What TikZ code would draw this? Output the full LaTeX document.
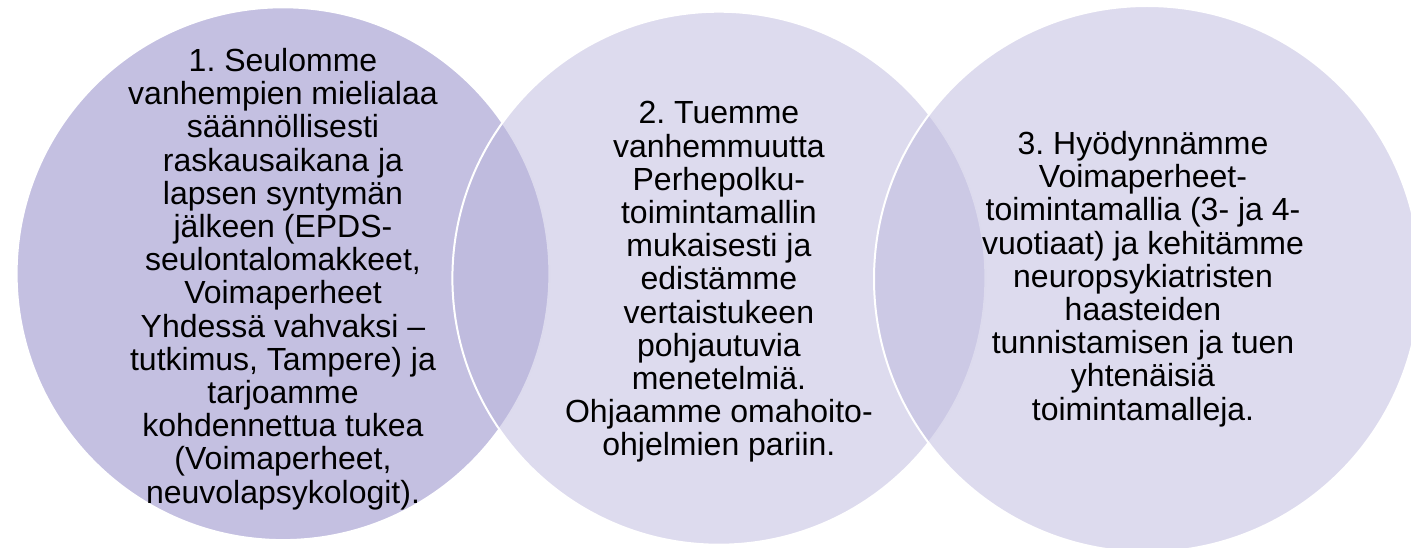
\documentclass[tikz,border=0pt]{standalone}
\usepackage{fontspec}
\setmainfont{Liberation Sans}
\frenchspacing
\definecolor{cfirst}{RGB}{196,192,225}
\definecolor{cvenn}{RGB}{187,183,221}
\begin{document}
\begin{tikzpicture}[x=1pt,y=-1pt,
  venn/.style={circle, inner sep=0pt, draw=white, line width=2pt},
  label/.style={align=center, inner sep=0pt, font=\fontsize{32}{33.2}\selectfont, text=black}]
\useasboundingbox (0,0) rectangle (1411,548);
\node[venn, fill=cfirst, minimum size=532.8pt] (c1) at (283,273.7) {};
\node[venn, fill=cvenn, fill opacity=0.5, minimum size=533pt] (c2) at (718.9,278.2) {};
\node[venn, fill=cvenn, fill opacity=0.5, minimum size=546pt] (c3) at (1147,279) {};
\node[label] (t1) at (283,279) {1. Seulomme\\vanhempien mielialaa\\säännöllisesti\\raskausaikana ja\\lapsen syntymän\\jälkeen (EPDS-\\seulontalomakkeet,\\Voimaperheet\\Yhdessä vahvaksi –\\tutkimus, Tampere) ja\\tarjoamme\\kohdennettua tukea\\(Voimaperheet,\\neuvolapsykologit).};
\node[label] (t2) at (718.9,282) {2. Tuemme\\vanhemmuutta\\Perhepolku-\\toimintamallin\\mukaisesti ja\\edistämme\\vertaistukeen\\pohjautuvia\\menetelmiä.\\Ohjaamme omahoito-\\ohjelmien pariin.};
\node[label] (t3) at (1143,279) {3. Hyödynnämme\\Voimaperheet-\\toimintamallia (3- ja 4-\\vuotiaat) ja kehitämme\\neuropsykiatristen\\haasteiden\\tunnistamisen ja tuen\\yhtenäisiä\\toimintamalleja.};
\end{tikzpicture}
\end{document}
